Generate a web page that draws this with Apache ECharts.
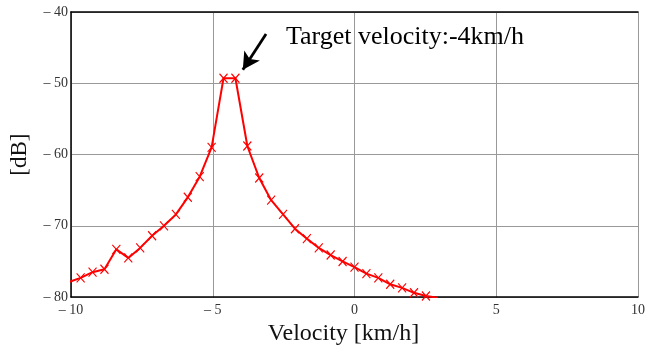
<!DOCTYPE html>
<html>
<head>
<meta charset="utf-8">
<script src="https://cdn.jsdelivr.net/npm/echarts@6/dist/echarts.min.js"></script>
<style>
  html, body { margin: 0; padding: 0; background: #fff; }
  #main { width: 648px; height: 351px; }
</style>
</head>
<body>
<div id="main"></div>
<script>
const velocity = [
  -10.08, -9.66, -9.24, -8.82, -8.40, -7.98, -7.56, -7.14, -6.72, -6.30,
  -5.88, -5.46, -5.04, -4.62, -4.20, -3.78, -3.36, -2.94, -2.52, -2.10,
  -1.68, -1.26, -0.84, -0.42, 0.00, 0.42, 0.84, 1.26, 1.68, 2.10,
  2.52, 2.94
]
const power = [
  -77.9, -77.3, -76.5, -76.1, -73.3, -74.5, -73.1, -71.4, -70.0, -68.4,
  -66.0, -63.1, -59.0, -49.3, -49.3, -58.8, -63.3, -66.4, -68.4, -70.4,
  -71.8, -73.1, -74.1, -75.0, -75.8, -76.7, -77.3, -78.2, -78.7, -79.4,
  -79.85, -80.1
]
const xTicks = [-10, -5, 0, 5, 10]
const yTicks = [-80, -70, -60, -50, -40]

// arrow tail/head and label anchor, in data units
const arrowFrom = [-3.12, -43.1]
const arrowTo = [-3.94, -48.1]
const noteAt = [-2.42, -43.6]
const noteText = 'Target velocity:-4km/h'

const tickFmt = v => (v < 0 ? '\u2013 ' + Math.abs(v) : String(v))
const labelStyle = {
  fontFamily: 'Liberation Serif',
  fontSize: 14,
  color: '#333'
}

const chart = echarts.init(document.getElementById('main'))
chart.setOption({
  animation: false,
  grid: { left: 70, right: 5, top: 12, bottom: 51 },
  xAxis: [{
    type: 'value',
    min: xTicks[0],
    max: xTicks[xTicks.length - 1],
    interval: xTicks[1] - xTicks[0],
    name: 'Velocity [km/h]',
    nameLocation: 'middle',
    nameGap: 21,
    nameTextStyle: {
      fontFamily: 'Liberation Serif',
      fontSize: 24,
      color: '#111',
      padding: [0, 22, 0, 0]
    },
    axisLine: { lineStyle: { color: '#000', width: 1.5 } },
    axisTick: { show: false },
    axisLabel: Object.assign({ formatter: tickFmt, margin: 6 }, labelStyle),
    splitLine: { lineStyle: { color: '#999', width: 1 } }
  }, {
    type: 'value',
    position: 'top',
    min: xTicks[0],
    max: xTicks[xTicks.length - 1],
    axisLine: { onZero: false, lineStyle: { color: '#000', width: 1.5 } },
    axisTick: { show: false },
    axisLabel: { show: false },
    splitLine: { show: false }
  }],
  yAxis: {
    type: 'value',
    min: yTicks[0],
    max: yTicks[yTicks.length - 1],
    interval: yTicks[1] - yTicks[0],
    name: '[dB]',
    nameLocation: 'middle',
    nameGap: 40,
    nameTextStyle: {
      fontFamily: 'Liberation Serif',
      fontSize: 23,
      color: '#111'
    },
    axisLine: { show: true, onZero: false, lineStyle: { color: '#000', width: 1.5 } },
    axisTick: { show: false },
    axisLabel: Object.assign({ formatter: tickFmt, margin: 3 }, labelStyle),
    splitLine: { lineStyle: { color: '#999', width: 1 } }
  },
  series: [{
    type: 'line',
    data: velocity.map((v, i) => [v, power[i]]),
    clip: true,
    symbol: 'path://M0,0L10,10M10,0L0,10',
    symbolSize: [8, 9],
    showAllSymbol: true,
    lineStyle: { color: '#ff0000', width: 2 },
    itemStyle: { color: '#ff0000', borderColor: '#ff0000', borderWidth: 1.2 },
    markLine: {
      silent: true,
      symbol: ['none', 'arrow'],
      symbolSize: [14, 17],
      lineStyle: { color: '#000', width: 2.8, type: 'solid' },
      label: { show: false },
      data: [[{ coord: arrowFrom }, { coord: arrowTo }]]
    },
    markPoint: {
      silent: true,
      symbol: 'circle',
      symbolSize: 0,
      label: {
        show: true,
        position: 'right',
        distance: 0,
        formatter: noteText,
        fontFamily: 'Liberation Serif',
        fontSize: 26,
        color: '#000'
      },
      data: [{ coord: noteAt }]
    }
  }]
})
</script>
</body>
</html>
